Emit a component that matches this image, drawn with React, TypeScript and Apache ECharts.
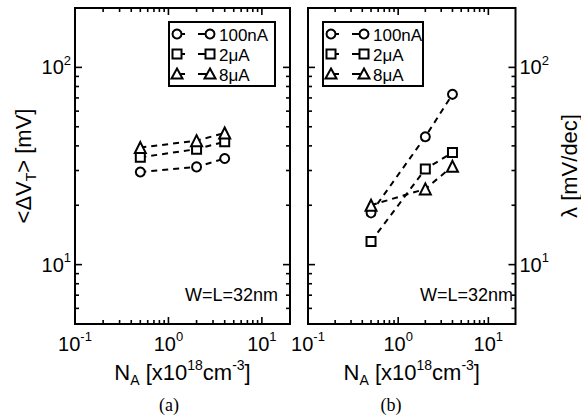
import React, { useEffect, useRef } from "react";
import * as echarts from "echarts";

// ---- data ----
const xVals = [0.5, 2, 4];
const seriesNames = ["100nA", "2\u03bcA", "8\u03bcA"];
const seriesSymbols = ["circle", "rect", "triangle"];
// (a) <dVT> [mV]
const dvt100nA = [29.5, 31.3, 34.5];
const dvt2uA = [35, 38.5, 42];
const dvt8uA = [39.2, 42.5, 46.5];
// (b) lambda [mV/dec]
const lam100nA = [18.3, 44.5, 73];
const lam2uA = [13.1, 30.5, 37];
const lam8uA = [20, 24.2, 31.5];

// axis ranges and ticks
const xMin = 0.1;
const xMax = 20;
const yMin = 5;
const yMax = 200;
const xMajorTicks = [1, 10];
const xMinorTicks = [0.2, 0.3, 0.4, 0.5, 0.6, 0.7, 0.8, 0.9, 2, 3, 4, 5, 6, 7, 8, 9];
const yMajorTicks = [10, 100];
const yMinorTicks = [6, 7, 8, 9, 20, 30, 40, 50, 60, 70, 80, 90];

const FONT = "Liberation Sans, Arial, Helvetica, sans-serif";

function tickData() {
  const d: number[][] = [];
  xMajorTicks.forEach((v) => d.push([v, yMin, 0, 1]));
  xMinorTicks.forEach((v) => d.push([v, yMin, 0, 0]));
  yMajorTicks.forEach((v) => d.push([xMin, v, 1, 1]));
  yMinorTicks.forEach((v) => d.push([xMin, v, 1, 0]));
  return d;
}

function renderTick(params: any, api: any) {
  const kind = api.value(2);
  const major = api.value(3);
  const len = major ? 7 : 4;
  const style = { stroke: "#000", lineWidth: 1.6 };
  if (kind === 0) {
    const v = api.value(0);
    const b = api.coord([v, yMin]);
    const t = api.coord([v, yMax]);
    return {
      type: "group",
      children: [
        { type: "line", shape: { x1: b[0], y1: b[1], x2: b[0], y2: b[1] - len }, style },
        { type: "line", shape: { x1: t[0], y1: t[1], x2: t[0], y2: t[1] + len }, style },
      ],
    };
  }
  const v = api.value(1);
  const l = api.coord([xMin, v]);
  const r = api.coord([xMax, v]);
  return {
    type: "group",
    children: [
      { type: "line", shape: { x1: l[0], y1: l[1], x2: l[0] + len, y2: l[1] }, style },
      { type: "line", shape: { x1: r[0], y1: r[1], x2: r[0] - len, y2: r[1] }, style },
    ],
  };
}

function powLabel(v: number) {
  const e = Math.log10(v);
  const r = Math.round(e);
  if (Math.abs(e - r) > 1e-6) return "";
  return "{b|10}{sup|" + r + "}";
}

const labelRich = {
  b: { fontSize: 20, fontFamily: FONT, color: "#000", lineHeight: 27, verticalAlign: "middle" },
  sup: { fontSize: 13, fontFamily: FONT, color: "#000", lineHeight: 14, verticalAlign: "top" },
};

const nameRich = {
  t: { fontSize: 22, fontFamily: FONT, color: "#000", lineHeight: 29, verticalAlign: "middle" },
  sup: { fontSize: 14, fontFamily: FONT, color: "#000", lineHeight: 14, verticalAlign: "top" },
  sub: { fontSize: 14, fontFamily: FONT, color: "#000", lineHeight: 14, verticalAlign: "bottom" },
};

function legendGroup(x: number, y: number, width: number) {
  const children: any[] = [
    { type: "rect", shape: { x: 0, y: 0, width, height: 64 }, style: { fill: "#fff", stroke: "#000", lineWidth: 2 } },
  ];
  const mstyle = { fill: "#fff", stroke: "#000", lineWidth: 2 };
  seriesNames.forEach((name, i) => {
    const cy = 12 + i * 20;
    const m1 = 8;
    const m2 = 41;
    children.push({ type: "line", shape: { x1: m1, y1: cy, x2: m1 + 8, y2: cy }, style: { stroke: "#000", lineWidth: 2 } });
    children.push({ type: "line", shape: { x1: m2 - 12, y1: cy, x2: m2, y2: cy }, style: { stroke: "#000", lineWidth: 2 } });
    [m1, m2].forEach((cx) => {
      const sym = seriesSymbols[i];
      if (sym === "circle") children.push({ type: "circle", shape: { cx, cy, r: 4.5 }, style: mstyle });
      else if (sym === "rect") children.push({ type: "rect", shape: { x: cx - 4.5, y: cy - 4.5, width: 9, height: 9 }, style: mstyle });
      else
        children.push({
          type: "polygon",
          shape: { points: [[cx, cy - 5.5], [cx + 5.5, cy + 4.5], [cx - 5.5, cy + 4.5]] },
          style: mstyle,
        });
    });
    children.push({
      type: "text",
      x: 50,
      y: cy + 1,
      style: { text: name, fontSize: 17, fontFamily: FONT, fill: "#000", verticalAlign: "middle", align: "left" },
    });
  });
  return { type: "group", x, y, children, z: 100 };
}

function makeSeries(vals: number[][], gi: number) {
  const s: any[] = vals.map((arr, i) => ({
    type: "line",
    name: seriesNames[i] + (gi ? " (b)" : " (a)"),
    xAxisIndex: gi,
    yAxisIndex: gi,
    data: xVals.map((x, k) => [x, arr[k]]),
    symbol: seriesSymbols[i],
    symbolSize: seriesSymbols[i] === "triangle" ? 11 : 9,
    showSymbol: true,
    lineStyle: { color: "#000", width: 2, type: [6, 5] },
    itemStyle: { color: "#fff", borderColor: "#000", borderWidth: 2 },
    z: 5,
  }));
  s.push({
    type: "custom",
    xAxisIndex: gi,
    yAxisIndex: gi,
    data: tickData(),
    encode: { x: 0, y: 1 },
    renderItem: renderTick,
    silent: true,
    clip: false,
    z: 4,
  });
  return s;
}

function xAxis(gi: number) {
  return {
    type: "log",
    gridIndex: gi,
    min: xMin,
    max: xMax,
    logBase: 10,
    axisLine: { show: false },
    axisTick: { show: false },
    splitLine: { show: false },
    axisLabel: { formatter: powLabel, rich: labelRich, margin: 6, hideOverlap: false },
    name: "{t|N}{sub|A}{t| [x10}{sup|18}{t|cm}{sup|-3}{t|]}",
    nameLocation: "middle",
    nameGap: 33,
    nameTextStyle: { rich: nameRich },
  };
}

function yAxis(gi: number) {
  const right = gi === 1;
  return {
    type: "log",
    gridIndex: gi,
    min: yMin,
    max: yMax,
    logBase: 10,
    position: right ? "right" : "left",
    axisLine: { show: false },
    axisTick: { show: false },
    splitLine: { show: false },
    axisLabel: { formatter: powLabel, rich: labelRich, margin: 4, hideOverlap: false },
    name: right ? "{t|\u03bb [mV/dec]}" : "{t|<\u0394V}{sub|T}{t|> [mV]}",
    nameLocation: "middle",
    nameRotate: 90,
    nameGap: right ? 39 : 32,
    nameTextStyle: { rich: nameRich },
  };
}

export default function App() {
  const ref = useRef<HTMLDivElement>(null);
  useEffect(() => {
    if (!ref.current) return;
    const chart = echarts.init(ref.current, null, { renderer: "svg" });
    const gridBase = { top: 8, bottom: 96, show: true, borderColor: "#000", borderWidth: 2, backgroundColor: "transparent" };
    chart.setOption({
      animation: false,
      backgroundColor: "#fff",
      textStyle: { fontFamily: FONT },
      grid: [
        { ...gridBase, left: 75, right: 291 },
        { ...gridBase, left: 308, right: 56 },
      ],
      xAxis: [xAxis(0), xAxis(1)],
      yAxis: [yAxis(0), yAxis(1)],
      series: [
        ...makeSeries([dvt100nA, dvt2uA, dvt8uA], 0),
        ...makeSeries([lam100nA, lam2uA, lam8uA], 1),
      ],
      graphic: [
        legendGroup(169, 22, 106),
        legendGroup(323, 22, 100),
        {
          type: "text",
          x: 278,
          y: 295,
          style: { text: "W=L=32nm", fontSize: 18, fontFamily: FONT, fill: "#000", align: "right", verticalAlign: "middle" },
        },
        {
          type: "text",
          x: 513,
          y: 295,
          style: { text: "W=L=32nm", fontSize: 18, fontFamily: FONT, fill: "#000", align: "right", verticalAlign: "middle" },
        },
        {
          type: "text",
          x: 169,
          y: 405,
          style: { text: "(a)", fontSize: 18, fontFamily: "Liberation Serif, Times New Roman, serif", fill: "#000", align: "center", verticalAlign: "middle" },
        },
        {
          type: "text",
          x: 391,
          y: 405,
          style: { text: "(b)", fontSize: 18, fontFamily: "Liberation Serif, Times New Roman, serif", fill: "#000", align: "center", verticalAlign: "middle" },
        },
      ],
    });
    return () => chart.dispose();
  }, []);
  return (
    <div
      ref={ref}
      style={{ position: "fixed", left: 0, top: 0, width: 581, height: 420, background: "#fff" }}
    />
  );
}
